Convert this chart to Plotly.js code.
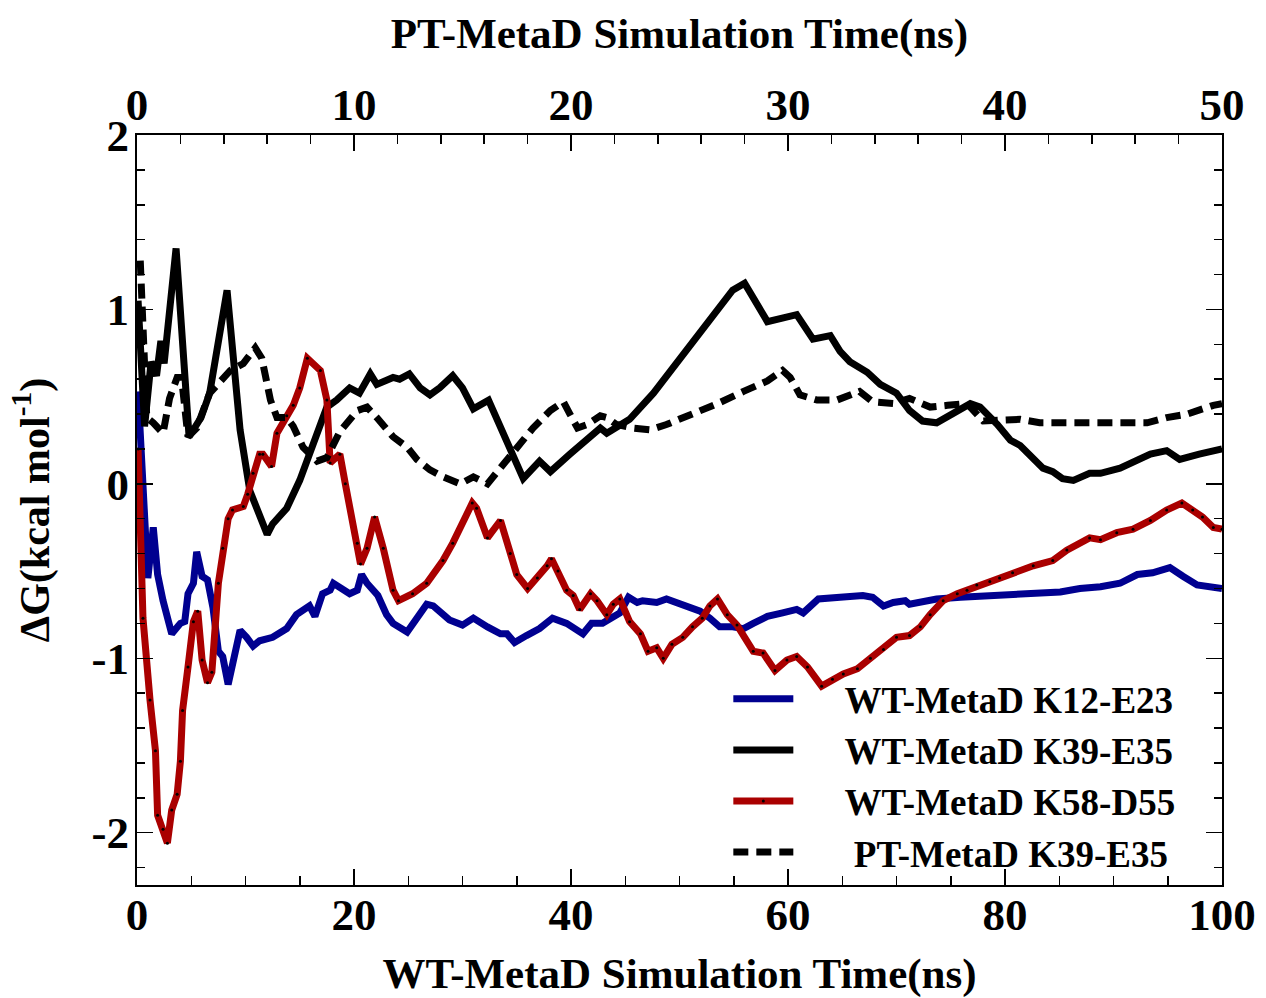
<!DOCTYPE html>
<html>
<head>
<meta charset="utf-8">
<script src="https://cdn.plot.ly/plotly-3.0.1.min.js"></script>
<style>html,body{margin:0;padding:0;background:#fff;}#chart{width:1266px;height:998px;}</style>
</head>
<body>
<div id="chart"></div>
<script>
// WT-MetaD K12-E23 (blue), x = WT-MetaD time (ns)
const blueX = [0.1,1.0,1.5,1.9,2.4,2.9,3.2,4.0,4.4,4.7,5.2,5.5,6.0,6.5,7.0,7.5,7.9,8.4,8.8,9.5,10.1,10.7,11.3,12.5,13.8,14.7,15.9,16.4,17.1,17.8,18.1,18.7,19.6,20.3,20.7,21.2,21.8,22.2,23.0,23.6,24.9,26.1,26.7,27.3,28.8,30.0,31.0,32.3,33.5,34.1,34.8,35.9,37.1,38.3,39.6,41.1,41.9,42.9,43.9,44.5,45.3,46.1,46.6,47.9,48.8,50.7,51.9,52.8,53.7,54.9,55.9,56.8,58.1,59.5,60.8,61.4,62.8,64.8,66.9,67.8,68.8,69.7,70.8,71.2,72.2,73.7,75.9,79.5,85.1,86.9,88.8,90.6,92.2,93.6,95.2,96.4,97.7,100];
const blueY = [0.53,-0.54,-0.25,-0.52,-0.67,-0.79,-0.86,-0.80,-0.79,-0.63,-0.57,-0.39,-0.53,-0.55,-0.71,-0.96,-0.99,-1.15,-1.03,-0.84,-0.88,-0.93,-0.90,-0.88,-0.83,-0.75,-0.70,-0.76,-0.63,-0.61,-0.57,-0.59,-0.63,-0.61,-0.52,-0.57,-0.62,-0.64,-0.75,-0.80,-0.85,-0.75,-0.69,-0.70,-0.78,-0.81,-0.77,-0.82,-0.86,-0.86,-0.91,-0.87,-0.83,-0.77,-0.80,-0.86,-0.80,-0.80,-0.76,-0.74,-0.65,-0.68,-0.67,-0.68,-0.66,-0.70,-0.73,-0.77,-0.82,-0.82,-0.83,-0.80,-0.76,-0.74,-0.72,-0.74,-0.66,-0.65,-0.64,-0.65,-0.70,-0.68,-0.67,-0.69,-0.68,-0.66,-0.65,-0.64,-0.62,-0.60,-0.59,-0.57,-0.52,-0.51,-0.48,-0.53,-0.58,-0.60];

// WT-MetaD K39-E35 (black solid)
const blackX = [0.1,0.7,1.3,1.8,2.2,2.5,3.6,4.8,5.9,6.7,8.3,9.5,10.4,12.0,12.5,13.8,15.0,16.2,17.5,18.4,19.6,20.5,21.5,22.1,23.6,24.2,25.1,26.1,27.0,27.9,29.1,30.0,31.0,32.4,33.7,34.6,35.6,37.1,38.1,39.9,41.1,42.7,43.3,45.4,47.6,49.8,51.9,54.9,56.0,57.0,58.1,60.8,62.3,63.9,64.8,65.7,67.3,68.5,70.0,71.2,72.4,73.7,76.8,77.7,79.3,80.5,81.4,83.5,84.4,85.3,86.3,87.8,88.8,90.6,93.4,94.9,96.1,97.9,100];
const blackY = [1.05,0.33,0.70,0.62,0.82,0.69,1.35,0.27,0.38,0.52,1.11,0.31,-0.04,-0.29,-0.23,-0.14,0.02,0.21,0.44,0.48,0.55,0.52,0.63,0.57,0.61,0.60,0.63,0.55,0.51,0.55,0.62,0.55,0.43,0.48,0.29,0.17,0.03,0.13,0.07,0.17,0.23,0.32,0.29,0.37,0.52,0.70,0.86,1.11,1.15,1.05,0.93,0.97,0.83,0.85,0.76,0.70,0.64,0.57,0.52,0.42,0.36,0.35,0.46,0.44,0.34,0.25,0.22,0.09,0.07,0.03,0.02,0.06,0.06,0.09,0.17,0.19,0.14,0.17,0.20];

// WT-MetaD K58-D55 (red)
const redX = [0.1,0.55,1.2,1.7,1.9,2.4,2.8,3.2,3.7,4.0,4.2,4.7,5.2,5.6,6.0,6.5,6.9,7.5,7.9,8.4,8.8,9.8,10.2,10.7,11.3,11.6,12.4,12.9,13.8,14.4,15.0,15.7,16.9,17.5,17.8,18.7,19.2,20.3,20.6,21.2,21.9,22.7,23.6,24.1,25.4,26.7,28.2,29.1,30.9,31.3,32.3,33.5,34.4,35.0,36.0,36.9,37.8,38.2,38.8,39.6,40.2,40.8,41.8,42.4,43.3,43.9,44.5,45.4,46.4,47.1,47.9,48.5,49.3,50.3,51.2,52.1,52.8,53.5,54.4,55.3,56.8,57.7,58.8,59.9,60.8,61.8,63.1,64.1,65.1,66.4,67.6,68.8,70.0,71.2,72.2,73.1,74.3,75.6,76.5,77.4,78.6,79.5,80.7,82.6,84.4,85.7,87.8,88.8,90.3,91.8,93.4,94.9,96.3,97.3,98.2,99.2,100];
const redY = [0.20,-0.77,-1.24,-1.53,-1.90,-1.98,-2.06,-1.87,-1.78,-1.59,-1.30,-1.05,-0.79,-0.73,-1.01,-1.14,-1.08,-0.57,-0.37,-0.20,-0.15,-0.13,-0.06,0.06,0.17,0.17,0.10,0.29,0.39,0.45,0.55,0.72,0.65,0.48,0.12,0.17,0.0,-0.34,-0.46,-0.37,-0.19,-0.37,-0.61,-0.67,-0.63,-0.57,-0.44,-0.34,-0.11,-0.14,-0.31,-0.21,-0.40,-0.52,-0.60,-0.54,-0.47,-0.43,-0.50,-0.61,-0.64,-0.72,-0.63,-0.67,-0.75,-0.69,-0.66,-0.79,-0.86,-0.96,-0.94,-1.00,-0.92,-0.88,-0.82,-0.77,-0.70,-0.66,-0.75,-0.81,-0.96,-0.97,-1.07,-1.01,-0.99,-1.05,-1.16,-1.12,-1.09,-1.06,-1.00,-0.95,-0.88,-0.87,-0.82,-0.75,-0.67,-0.63,-0.61,-0.58,-0.56,-0.54,-0.51,-0.47,-0.44,-0.38,-0.31,-0.32,-0.28,-0.26,-0.21,-0.15,-0.11,-0.15,-0.19,-0.25,-0.26];

// PT-MetaD K39-E35 (black dashed), x = PT-MetaD time (ns)
const ptX = [0.15,0.28,0.45,0.75,1.2,1.5,1.85,2.05,2.2,2.35,2.75,3.35,4.3,4.9,5.45,5.75,6.15,6.45,6.9,7.2,7.65,8.3,8.75,9.35,10.15,10.6,11.05,11.8,12.45,12.9,13.5,14.1,14.9,15.5,16.15,16.75,17.35,18.25,19.05,19.65,19.95,20.3,20.75,21.35,21.65,22.1,22.85,23.65,24.4,25.6,26.75,27.95,29.05,29.75,30.1,30.55,31.35,32.25,33.3,33.9,34.85,35.6,36.55,37.35,38.25,39.0,39.75,40.7,41.6,42.55,43.45,44.4,45.3,45.9,46.55,47.45,48.4,49.6,50];
const ptY = [1.28,0.88,0.38,0.35,0.29,0.49,0.61,0.61,0.38,0.27,0.32,0.52,0.65,0.69,0.78,0.72,0.48,0.38,0.38,0.33,0.21,0.13,0.15,0.30,0.42,0.44,0.38,0.27,0.21,0.14,0.08,0.04,0.0,0.04,0.0,0.09,0.19,0.32,0.42,0.47,0.40,0.32,0.34,0.39,0.38,0.34,0.32,0.31,0.34,0.40,0.46,0.53,0.59,0.65,0.61,0.51,0.48,0.48,0.53,0.47,0.46,0.49,0.44,0.45,0.46,0.36,0.36,0.37,0.35,0.35,0.36,0.36,0.36,0.35,0.35,0.38,0.40,0.45,0.46];

const seriesNames = ["WT-MetaD K12-E23","WT-MetaD K39-E35","WT-MetaD K58-D55","PT-MetaD K39-E35"];
const legendPad = ["\u00a0\u00a0\u00a0\u00a0\u00a0","\u00a0\u00a0\u00a0\u00a0\u00a0","\u00a0\u00a0\u00a0\u00a0\u00a0","\u00a0\u00a0\u00a0\u00a0\u00a0\u00a0"];

// y tick labels (hyphen-minus as in the reference)
const yTickVals = [-2, -1, 0, 1, 2];
const yTickText = ["-2", "-1", "0", "1", "2"];

const FONT = "Liberation Serif, Times New Roman, serif";

const traces = [
  {x: blueX, y: blueY, name: legendPad[0] + seriesNames[0], mode: "lines", line: {color: "#000090", width: 7}},
  {x: blackX, y: blackY, name: legendPad[1] + seriesNames[1], mode: "lines", line: {color: "#000000", width: 7}},
  {x: redX, y: redY, name: legendPad[2] + seriesNames[2], mode: "lines+markers", line: {color: "#aa0000", width: 7},
   marker: {color: "#000000", size: 3}},
  {x: ptX, y: ptY, name: legendPad[3] + seriesNames[3], xaxis: "x2", mode: "lines", line: {color: "#000000", width: 7, dash: "15px,8px"}}
];

const axisCommon = {
  showgrid: false, zeroline: false, showline: true, linecolor: "#000", linewidth: 2,
  ticks: "inside", tickcolor: "#000", tickwidth: 1.5, ticklen: 16,
  tickfont: {family: FONT, size: 45, color: "#000", weight: 700}
};

const layout = {
  width: 1266, height: 998,
  paper_bgcolor: "#fff", plot_bgcolor: "#fff",
  margin: {l: 137, r: 44, t: 135, b: 113},
  showlegend: true,
  legend: {
    x: 0.545, y: 0.289, xanchor: "left", yanchor: "top",
    bgcolor: "rgba(0,0,0,0)", borderwidth: 0,
    font: {family: FONT, size: 37, color: "#000", weight: 700},
    itemwidth: 60, tracegroupgap: 0
  },
  xaxis: Object.assign({}, axisCommon, {
    range: [0, 100], dtick: 20, tick0: 0, mirror: true,
    minor: {dtick: 5, ticks: "inside", ticklen: 9, tickcolor: "#000", tickwidth: 1.5},
    ticklabelstandoff: -11,
    title: {text: "WT-MetaD Simulation Time(ns)", font: {family: FONT, size: 43, color: "#000", weight: 700}, standoff: 26}
  }),
  xaxis2: Object.assign({}, axisCommon, {
    range: [0, 50], dtick: 10, tick0: 0, overlaying: "x", side: "top", anchor: "y",
    minor: {dtick: 2, ticks: "inside", ticklen: 9, tickcolor: "#000", tickwidth: 1.5},
    ticklabelstandoff: -5,
    title: {text: "PT-MetaD Simulation Time(ns)", font: {family: FONT, size: 43, color: "#000", weight: 700}, standoff: 18}
  }),
  yaxis: Object.assign({}, axisCommon, {
    range: [-2.3, 2], tickmode: "array", tickvals: yTickVals, ticktext: yTickText, mirror: "ticks",
    minor: {tickmode: "linear", tick0: 0, dtick: 0.2, ticks: "inside", ticklen: 8, tickcolor: "#000", tickwidth: 1.5},
    ticklabelstandoff: -3,
    title: {text: "ΔG(kcal mol<sup>-1</sup>)", font: {family: FONT, size: 42, color: "#000", weight: 700}, standoff: 29}
  })
};

Plotly.newPlot("chart", traces, layout, {displayModeBar: false, staticPlot: true});
</script>
</body>
</html>
